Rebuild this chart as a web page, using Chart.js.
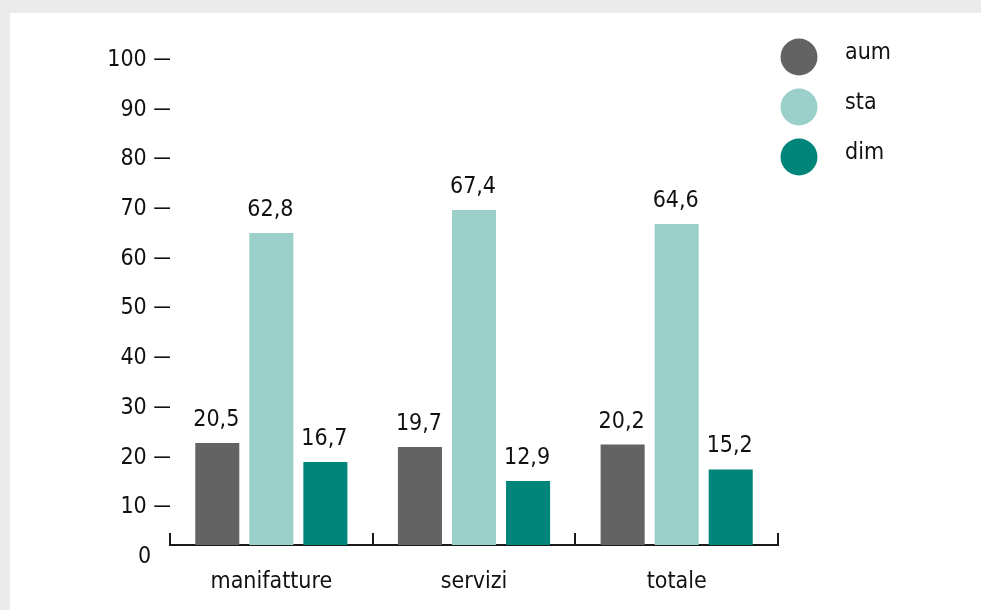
<!DOCTYPE html>
<html lang="it">
<head>
<meta charset="utf-8">
<title>aum / sta / dim</title>
<script src="https://cdn.jsdelivr.net/npm/chart.js@4/dist/chart.umd.min.js"></script>
<style>
  html, body { margin: 0; padding: 0; background: #ebebeb; }
  .panel {
    position: absolute;
    left: 10px; top: 13px;
    width: 971px; height: 597px;
    background: #fff;
  }
</style>
</head>
<body>
<div class="panel"><canvas id="barChart"></canvas></div>
<script>
const categories = ['manifatture', 'servizi', 'totale'];
const seriesNames = ['aum', 'sta', 'dim'];
const aum = [20.5, 19.7, 20.2];
const sta = [62.8, 67.4, 64.6];
const dim = [16.7, 12.9, 15.2];
const yTicks = [0, 10, 20, 30, 40, 50, 60, 70, 80, 90, 100];

const colors = ['#636363', '#9bcfc9', '#00857a'];
const FONT = "'Liberation Sans Narrow', 'DejaVu Sans Condensed', 'Roboto', sans-serif";
const SIZE = 23;
const ink = '#111';

const fmt = v => String(v).replace('.', ',');

// value above each bar
const valueLabels = {
    id: 'valueLabels',
    afterDatasetsDraw(chart) {
        const ctx = chart.ctx;
        ctx.save();
        ctx.font = SIZE + 'px ' + FONT;
        ctx.fillStyle = ink;
        ctx.textAlign = 'center';
        ctx.textBaseline = 'alphabetic';
        chart.data.datasets.forEach((ds, i) => {
            chart.getDatasetMeta(i).data.forEach((bar, j) => {
                ctx.fillText(fmt(ds.data[j]), bar.x - 1, bar.y - 17);
            });
        });
        ctx.restore();
    }
};

// short upward ticks between the categories on the x axis
const xTickMarks = {
    id: 'xTickMarks',
    afterDraw(chart) {
        const x = chart.scales.x;
        const ctx = chart.ctx;
        const bottom = chart.chartArea.bottom;
        ctx.save();
        ctx.strokeStyle = '#1a1a1a';
        ctx.lineWidth = 2;
        for (let i = 0; i <= categories.length; i++) {
            const px = Math.round(x.getPixelForValue(i - 0.5));
            ctx.beginPath();
            ctx.moveTo(px, bottom + 1);
            ctx.lineTo(px, bottom - 12);
            ctx.stroke();
        }
        ctx.restore();
    }
};

// round swatches, top right
const dotLegend = {
    id: 'dotLegend',
    afterDraw(chart) {
        const ctx = chart.ctx;
        ctx.save();
        ctx.font = SIZE + 'px ' + FONT;
        ctx.textAlign = 'left';
        ctx.textBaseline = 'middle';
        chart.data.datasets.forEach((ds, i) => {
            const cy = 44 + i * 50;
            ctx.fillStyle = ds.backgroundColor;
            ctx.beginPath();
            ctx.arc(789, cy, 18.5, 0, Math.PI * 2);
            ctx.fill();
            ctx.fillStyle = ink;
            ctx.fillText(ds.label, 835, cy - 4);
        });
        ctx.restore();
    }
};

new Chart(document.getElementById('barChart').getContext('2d'), {
    type: 'bar',
    data: {
        labels: categories,
        datasets: [
            { label: seriesNames[0], data: aum, backgroundColor: colors[0] },
            { label: seriesNames[1], data: sta, backgroundColor: colors[1] },
            { label: seriesNames[2], data: dim, backgroundColor: colors[2] }
        ]
    },
    options: {
        responsive: true,
        maintainAspectRatio: false,
        animation: false,
        categoryPercentage: 0.8,
        barPercentage: 0.815,
        layout: { padding: { left: 0, top: 35, right: 203, bottom: 0 } },
        scales: {
            x: {
                grid: { display: false, drawTicks: false },
                border: { display: true, color: '#1a1a1a', width: 2 },
                ticks: {
                    padding: 23,
                    color: ink,
                    font: { family: FONT, size: SIZE }
                },
                afterFit(scale) { scale.height = 65; }
            },
            y: {
                min: 0,
                max: 100,
                grid: { display: false, drawTicks: false },
                border: { display: false },
                afterBuildTicks(scale) {
                    scale.ticks = yTicks.map(v => ({ value: v }));
                },
                ticks: {
                    padding: -4,
                    labelOffset: 12,
                    color: ink,
                    font: { family: FONT, size: SIZE },
                    callback: v => v === 0 ? '0\u2003\u200a' : v + ' \u2014'
                },
                afterFit(scale) { scale.width = 160; }
            }
        },
        plugins: {
            legend: { display: false },
            tooltip: { enabled: false }
        }
    },
    plugins: [valueLabels, xTickMarks, dotLegend]
});
</script>
</body>
</html>
